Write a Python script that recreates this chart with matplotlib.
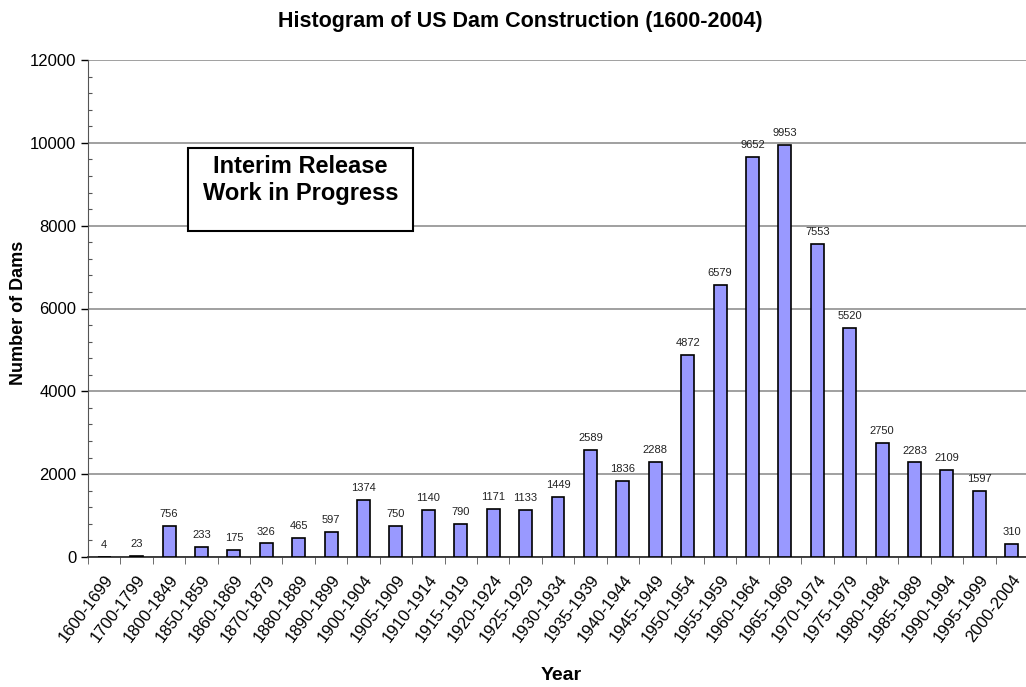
import matplotlib
matplotlib.use("Agg")
import matplotlib.pyplot as plt
import numpy as np
from matplotlib.patches import Rectangle

categories = ["1600-1699", "1700-1799", "1800-1849", "1850-1859", "1860-1869",
              "1870-1879", "1880-1889", "1890-1899", "1900-1904", "1905-1909",
              "1910-1914", "1915-1919", "1920-1924", "1925-1929", "1930-1934",
              "1935-1939", "1940-1944", "1945-1949", "1950-1954", "1955-1959",
              "1960-1964", "1965-1969", "1970-1974", "1975-1979", "1980-1984",
              "1985-1989", "1990-1994", "1995-1999", "2000-2004"]
counts = [4, 23, 756, 233, 175, 326, 465, 597, 1374, 750, 1140, 790, 1171, 1133,
          1449, 2589, 1836, 2288, 4872, 6579, 9652, 9953, 7553, 5520, 2750, 2283,
          2109, 1597, 310]

plt.rcParams['font.family'] = ['Liberation Sans', 'DejaVu Sans']

W, H = 1026, 687
fig = plt.figure(figsize=(W/100, H/100), dpi=100)
ax = fig.add_axes([88/W, 130/H, 940/W, 497/H])

x = np.arange(len(categories))
ax.bar(x, counts, width=0.4, color='#9999FF', edgecolor='black', linewidth=1.2, zorder=3)

for xi, v in zip(x, counts):
    ax.annotate(str(v), (xi, v), xytext=(0, 5), textcoords='offset points',
                ha='center', va='bottom', fontsize=8, color='#222222')

ax.set_xlim(-0.5, len(categories) - 0.5)
ax.set_ylim(0, 12000)
ax.set_yticks(np.arange(0, 12001, 2000))
ax.set_yticks(np.arange(0, 12001, 400), minor=True)
ax.tick_params(axis='y', which='major', direction='out', length=5, labelsize=12, width=1)
ax.tick_params(axis='y', which='minor', direction='in', length=3, width=0.8, color='#555555')
ax.yaxis.grid(True, which='major', color='#999999', linewidth=1.3, zorder=0)

ax.set_xticks(x)
ax.set_xticklabels(categories, rotation=53, ha='right', va='top', rotation_mode='anchor',
                   fontsize=12)
ax.set_xticks(np.arange(-0.5, len(categories), 1), minor=True)
ax.tick_params(axis='x', which='major', length=0, pad=11)
ax.tick_params(axis='x', which='minor', direction='out', length=5, color='#555555')

for s in ['top', 'right']:
    ax.spines[s].set_visible(False)
ax.spines['left'].set_color('#555555')
ax.spines['bottom'].set_color('#333333')
ax.spines['bottom'].set_linewidth(1.3)

ax.set_ylabel("Number of Dams", fontsize=13, fontweight='bold')
ax.yaxis.set_label_coords((27-88)/940, (557-313)/497)
fig.text(561/W, 1 - 675/H, "Year", fontsize=14, fontweight='bold', ha='center', va='center')
fig.text(520/W, 1 - 21/H, "Histogram of US Dam Construction (1600-2004)",
         fontsize=15.5, fontweight='bold', ha='center', va='center')

bx0, bx1 = (188-88)/940, (413-88)/940
by0, by1 = (557-231)/497, (557-148)/497
ax.add_patch(Rectangle((bx0, by0), bx1-bx0, by1-by0, transform=ax.transAxes,
                       facecolor='white', edgecolor='black', linewidth=1.5, zorder=4))
ax.text((bx0+bx1)/2, (557-180)/497, "Interim Release\nWork in Progress", transform=ax.transAxes,
        ha='center', va='center', fontsize=17, fontweight='bold', zorder=5, linespacing=1.2)

fig.savefig("out.png", dpi=100)
